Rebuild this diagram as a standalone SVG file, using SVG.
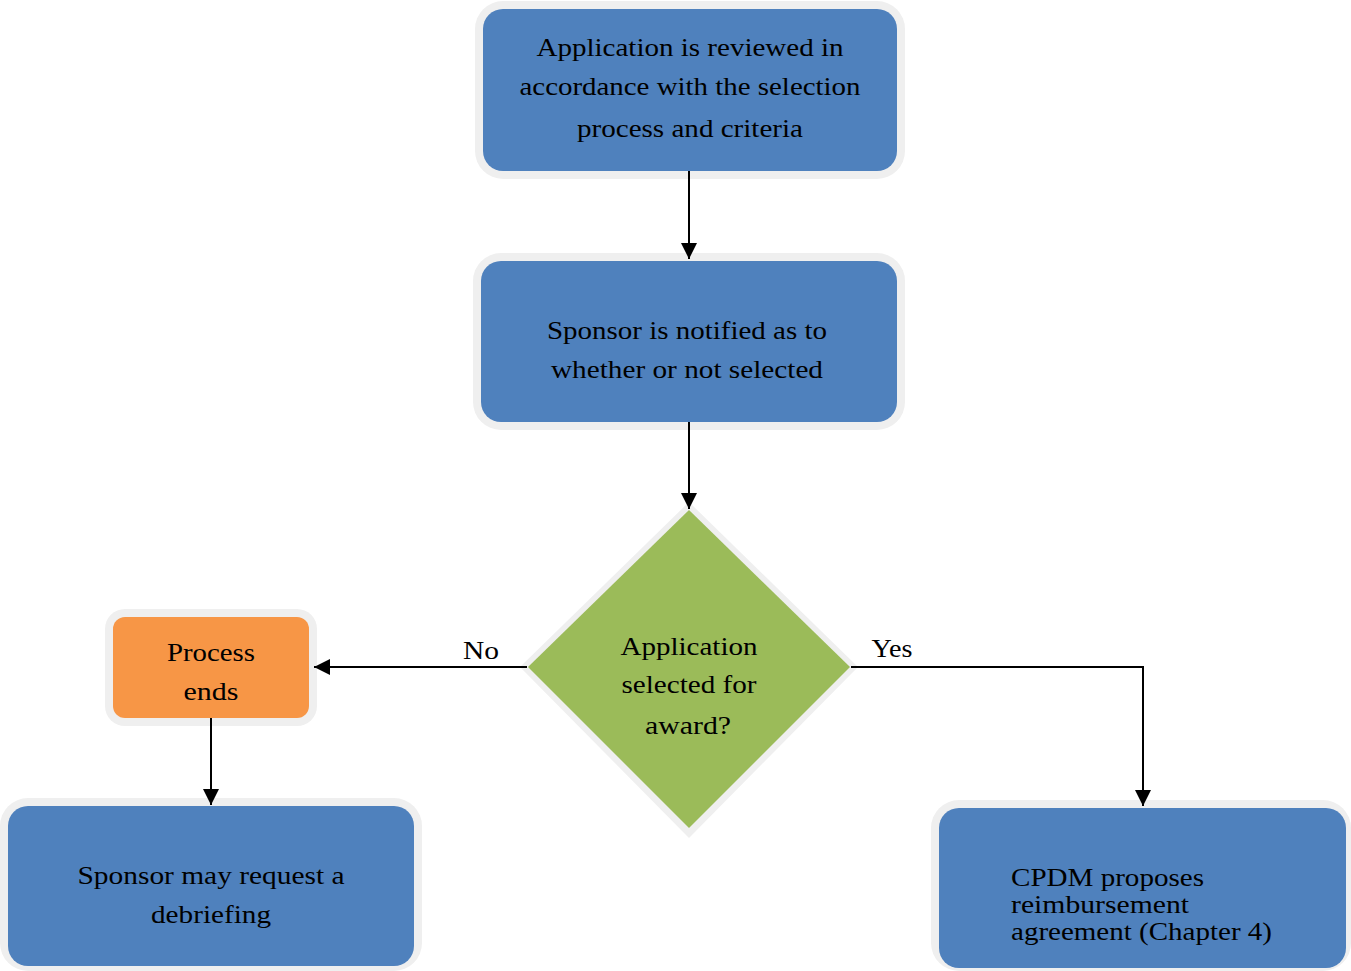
<svg xmlns="http://www.w3.org/2000/svg" width="1351" height="971" viewBox="0 0 1351 971">
<style>
.halo{fill:#efefef}
.blue{fill:#4f81bd}
.t{font-family:"Liberation Serif","DejaVu Serif",serif;font-size:26px;fill:#000;text-anchor:middle}
.l{text-anchor:start}
.c{stroke:#000;stroke-width:2;fill:none}
</style>
<defs>
<marker id="ah" viewBox="0 0 10 10" refX="10" refY="5" markerWidth="16" markerHeight="16" markerUnits="userSpaceOnUse" orient="auto"><path d="M0,0L10,5L0,10z" fill="#000"/></marker>
</defs>
<g id="n1">
<rect class="halo" x="475" y="1" width="430" height="178" rx="28"/>
<rect class="blue" x="483" y="9" width="414" height="162" rx="20"/>
<text class="t" x="690" y="56" textLength="307" lengthAdjust="spacingAndGlyphs">Application is reviewed in</text>
<text class="t" x="690" y="95" textLength="341" lengthAdjust="spacingAndGlyphs">accordance with the selection</text>
<text class="t" x="690" y="137" textLength="226" lengthAdjust="spacingAndGlyphs">process and criteria</text>
</g>
<g id="n2">
<rect class="halo" x="473" y="253" width="432" height="177" rx="28"/>
<rect class="blue" x="481" y="261" width="416" height="161" rx="20"/>
<text class="t" x="687" y="339" textLength="280" lengthAdjust="spacingAndGlyphs">Sponsor is notified as to</text>
<text class="t" x="687" y="378" textLength="272" lengthAdjust="spacingAndGlyphs">whether or not selected</text>
</g>
<g id="n3">
<polygon class="halo" points="689,502 858,667 689,838 520,667"/>
<polygon fill="#9bbb59" points="689,510 850,667 689,828 528,667"/>
<text class="t" x="689" y="655" textLength="137" lengthAdjust="spacingAndGlyphs">Application</text>
<text class="t" x="689" y="693" textLength="135" lengthAdjust="spacingAndGlyphs">selected for</text>
<text class="t" x="688" y="734" textLength="86" lengthAdjust="spacingAndGlyphs">award?</text>
</g>
<g id="n4">
<rect class="halo" x="105" y="609" width="212" height="117" rx="20"/>
<rect fill="#f79646" x="113" y="617" width="196" height="101" rx="12"/>
<text class="t" x="211" y="661" textLength="88" lengthAdjust="spacingAndGlyphs">Process</text>
<text class="t" x="211" y="700" textLength="55" lengthAdjust="spacingAndGlyphs">ends</text>
</g>
<g id="n5">
<rect class="halo" x="0" y="798" width="422" height="173" rx="28"/>
<rect class="blue" x="8" y="806" width="406" height="160" rx="20"/>
<text class="t" x="211" y="884" textLength="267" lengthAdjust="spacingAndGlyphs">Sponsor may request a</text>
<text class="t" x="211" y="923" textLength="120" lengthAdjust="spacingAndGlyphs">debriefing</text>
</g>
<g id="n6">
<rect class="halo" x="931" y="800" width="420" height="171" rx="28"/>
<rect class="blue" x="939" y="808" width="407" height="160" rx="20"/>
<text class="t l" x="1011" y="886" textLength="193" lengthAdjust="spacingAndGlyphs">CPDM proposes</text>
<text class="t l" x="1011" y="913" textLength="178" lengthAdjust="spacingAndGlyphs">reimbursement</text>
<text class="t l" x="1011" y="940" textLength="261" lengthAdjust="spacingAndGlyphs">agreement (Chapter 4)</text>
</g>
<g id="connectors">
<path class="c" d="M689,171V259" marker-end="url(#ah)"/>
<path class="c" d="M689,422V509" marker-end="url(#ah)"/>
<path class="c" d="M527,667H314" marker-end="url(#ah)"/>
<path class="c" d="M211,718V805" marker-end="url(#ah)"/>
<path class="c" d="M851,667H1143V806" marker-end="url(#ah)"/>
<text class="t" x="481" y="659" textLength="36" lengthAdjust="spacingAndGlyphs">No</text>
<text class="t" x="892" y="657" textLength="41" lengthAdjust="spacingAndGlyphs">Yes</text>
</g>
</svg>
